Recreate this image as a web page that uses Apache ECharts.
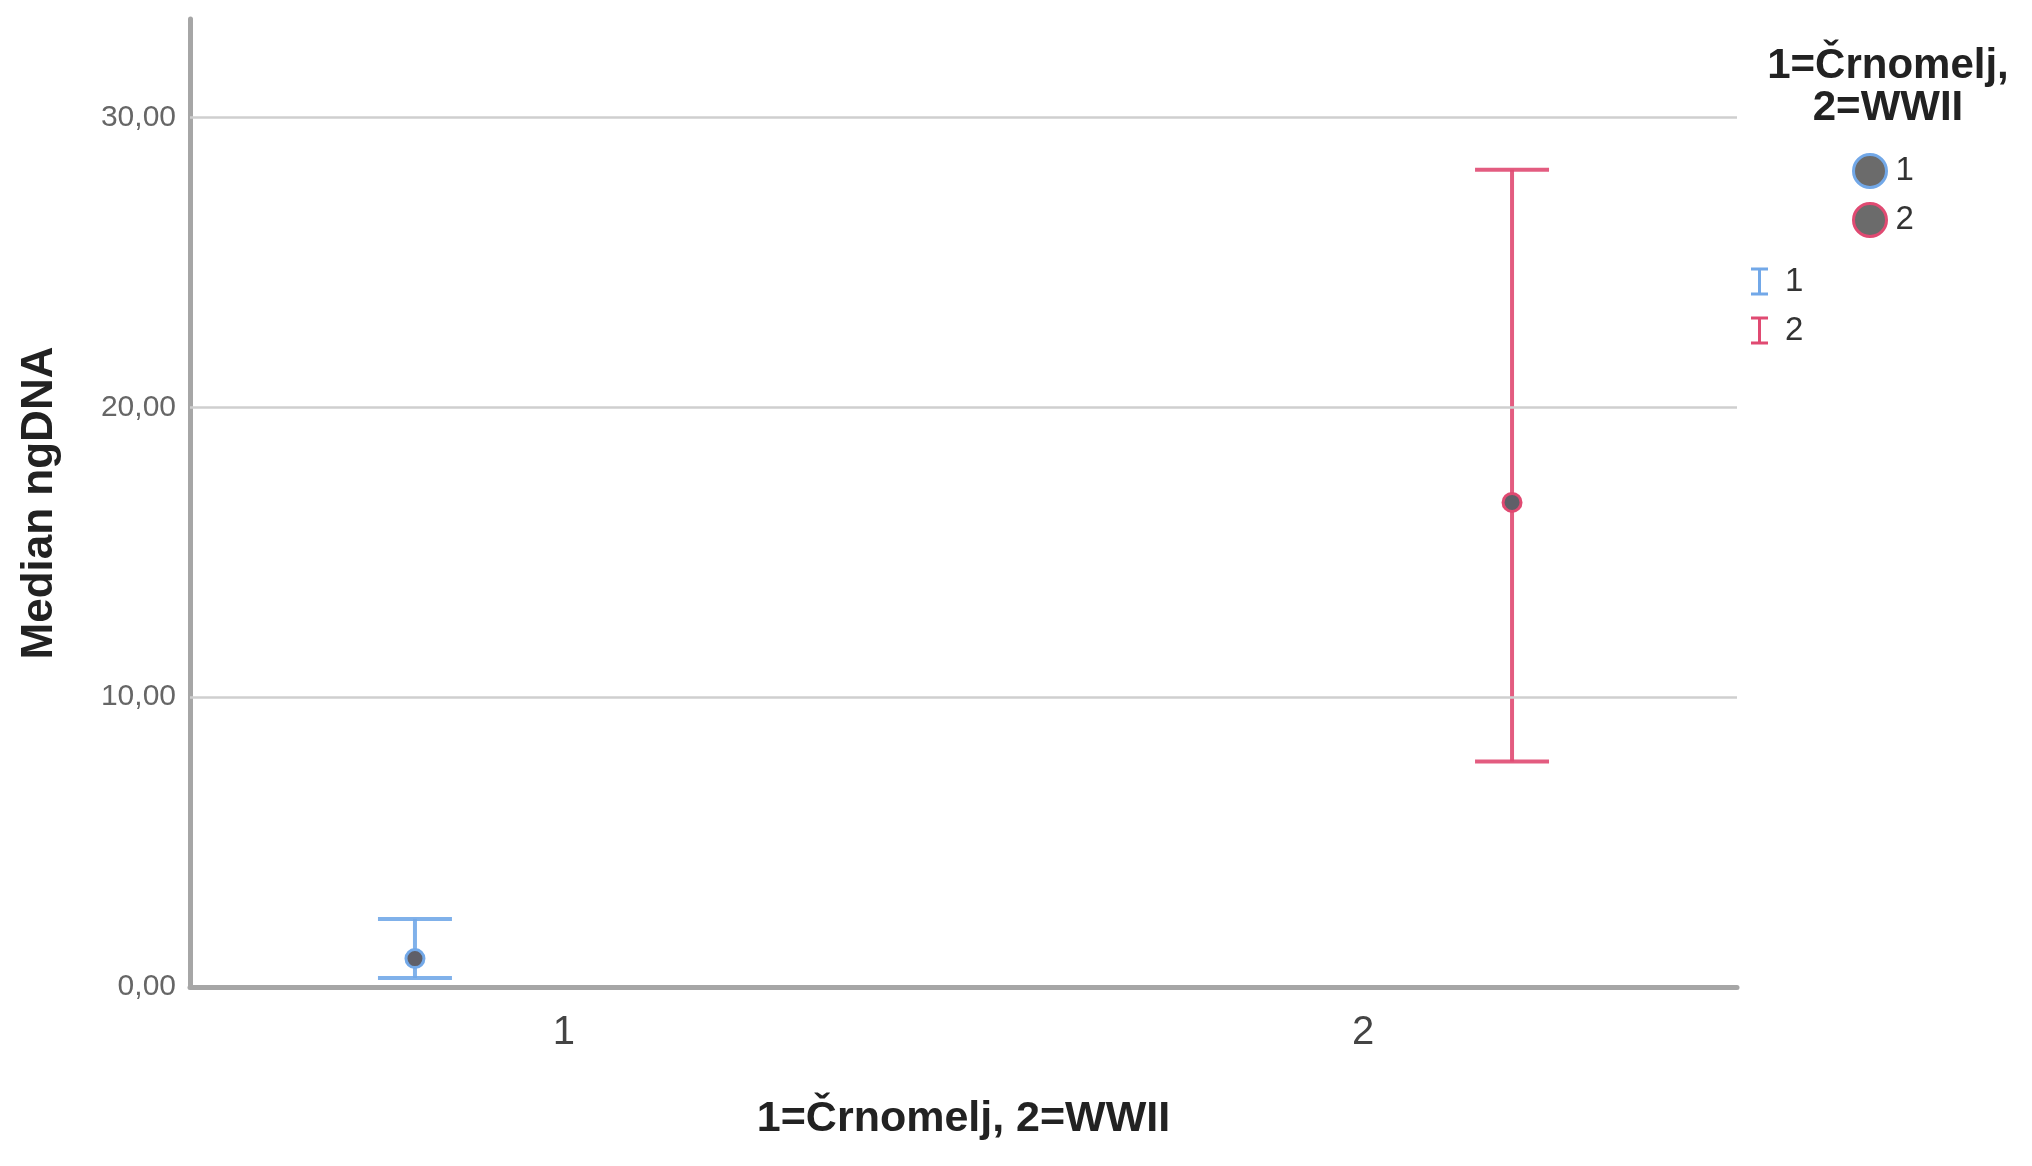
<!DOCTYPE html>
<html lang="sl">
<head>
    <meta charset="UTF-8">
    <title>Median ngDNA</title>
    <script src="https://cdn.jsdelivr.net/npm/echarts@6/dist/echarts.min.js"></script>
    <style>
        html, body { margin: 0; padding: 0; background: #fff; }
    </style>
</head>
<body>
    <div id="chart" style="width: 2032px; height: 1166px;"></div>

    <script>
        // podatki
        var groups = [1, 2]
        var groupNames = ["1", "2"]
        var medians = [0.98, 16.72]
        var ciLow = [0.31, 7.78]
        var ciHigh = [2.35, 28.2]
        var yGridTicks = [10, 20, 30]
        var yLabelTicks = [0, 10, 20, 30]
        var xLabelTicks = [1, 2]

        var colors = ["#72A8E8", "#E04A72"]
        var font = "'Liberation Sans', Arial, sans-serif"
        var clusterShift = [-149, 149]   // odmik skupine znotraj kategorije (px)
        var capHalf = 37

        var chart = echarts.init(document.getElementById("chart"))

        function errorBarItem(side) {
            return function (params, api) {
                var top = api.coord([api.value(0), api.value(2)])
                var bot = api.coord([api.value(0), api.value(1)])
                var x = top[0] + clusterShift[side]
                var style = { stroke: colors[side], lineWidth: 4, opacity: 0.9 }
                return {
                    type: "group",
                    children: [
                        { type: "line", shape: { x1: x, y1: top[1], x2: x, y2: bot[1] }, style: style },
                        { type: "line", shape: { x1: x - capHalf, y1: top[1], x2: x + capHalf, y2: top[1] }, style: style },
                        { type: "line", shape: { x1: x - capHalf, y1: bot[1], x2: x + capHalf, y2: bot[1] }, style: style }
                    ]
                }
            }
        }

        var series = [
            {
                // mrezne crte
                name: "grid",
                type: "line",
                data: [],
                z: 1,
                markLine: {
                    silent: true,
                    symbol: ["none", "none"],
                    label: { show: false },
                    lineStyle: { color: "#cfcfcf", width: 2.5, type: "solid" },
                    data: yGridTicks.map(function (v) { return { yAxis: v } })
                }
            }
        ]

        groups.forEach(function (g, i) {
            series.push({
                name: "ci" + groupNames[i],
                type: "custom",
                z: 2,
                itemStyle: { color: colors[i] },
                renderItem: errorBarItem(i),
                data: [[g, ciLow[i], ciHigh[i]]]
            })
        })

        groups.forEach(function (g, i) {
            series.push({
                name: groupNames[i],
                type: "scatter",
                z: 3,
                symbol: "circle",
                symbolSize: 18,
                symbolOffset: [clusterShift[i], 0],
                itemStyle: { color: "#5f5f68", borderColor: colors[i], borderWidth: 3, opacity: 1 },
                data: [[g, medians[i]]]
            })
        })

        var option = {
            animation: false,
            backgroundColor: "#fff",
            title: {
                text: "1=Črnomelj,\n2=WWII",
                left: 1883,
                top: 40,
                textAlign: "center",
                textStyle: { fontFamily: font, fontSize: 42, fontWeight: "bold", color: "#222", lineHeight: 42 }
            },
            legend: [
                {
                    orient: "vertical",
                    left: 1847,
                    top: 148,
                    itemWidth: 33,
                    itemHeight: 33,
                    itemGap: 13,
                    selectedMode: false,
                    data: groupNames.map(function (n, i) {
                        return {
                            name: n,
                            icon: "circle",
                            itemStyle: { color: "#6b6b6b", borderColor: colors[i], borderWidth: 3 }
                        }
                    }),
                    textStyle: { fontFamily: font, fontSize: 33, color: "#333", lineHeight: 30, padding: [0, 0, 0, 4] }
                },
                {
                    orient: "vertical",
                    left: 1746,
                    top: 260,
                    itemWidth: 17,
                    itemHeight: 28,
                    itemGap: 16,
                    selectedMode: false,
                    data: groupNames.map(function (n, i) {
                        return {
                            name: "ci" + n,
                            icon: "path://M0,0L17,0L17,3L10,3L10,25L17,25L17,28L0,28L0,25L7,25L7,3L0,3Z",
                            itemStyle: { color: colors[i] }
                        }
                    }),
                    formatter: function (name) { return name.replace("ci", "") },
                    textStyle: { fontFamily: font, fontSize: 33, color: "#333", lineHeight: 30, padding: [0, 0, 0, 12] }
                }
            ],
            grid: { left: 190, right: 295, top: 19, bottom: 179, containLabel: false },
            xAxis: {
                type: "value",
                min: 0.532,
                max: 2.468,
                name: "1=Črnomelj, 2=WWII",
                nameLocation: "middle",
                nameGap: 111,
                nameTextStyle: { fontFamily: font, fontSize: 43, fontWeight: "bold", color: "#222" },
                axisLine: { show: true, lineStyle: { color: "#a6a6a6", width: 5 } },
                axisTick: { show: false },
                splitLine: { show: false },
                axisLabel: {
                    customValues: xLabelTicks,
                    formatter: function (v) { return v % 1 === 0 ? String(v) : "" },
                    fontFamily: font,
                    fontSize: 40,
                    color: "#444",
                    margin: 26
                }
            },
            yAxis: {
                type: "value",
                min: 0,
                max: 33.4,
                name: "Median ngDNA",
                nameLocation: "middle",
                nameGap: 128,
                nameTextStyle: { fontFamily: font, fontSize: 44, fontWeight: "bold", color: "#222" },
                axisLine: { show: true, lineStyle: { color: "#a6a6a6", width: 5 } },
                axisTick: { show: false },
                splitLine: { show: false },
                axisLabel: {
                    customValues: yLabelTicks,
                    formatter: function (v) { return v % 10 === 0 ? v.toFixed(2).replace(".", ",") : "" },
                    fontFamily: font,
                    fontSize: 30,
                    color: "#666",
                    margin: 14
                }
            },
            series: series
        }

        chart.setOption(option)
    </script>
</body>
</html>
